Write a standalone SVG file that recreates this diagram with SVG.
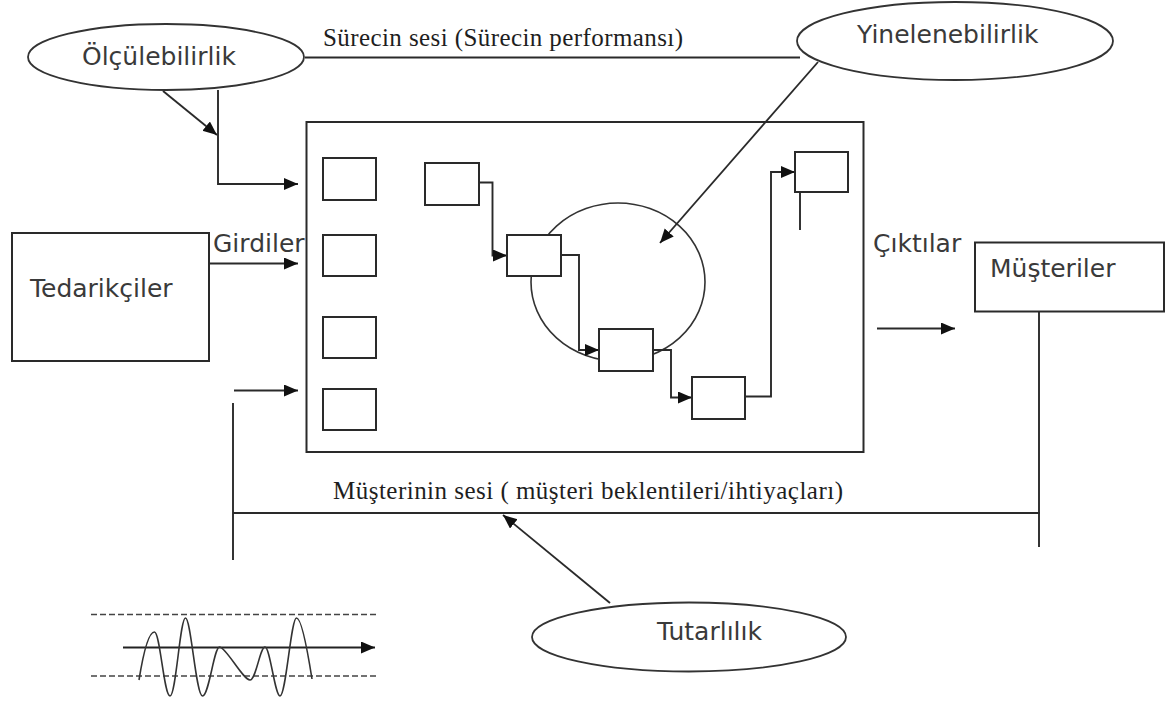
<svg xmlns="http://www.w3.org/2000/svg" width="1176" height="702" viewBox="0 0 1176 702">
  <defs>
    <marker id="arrow" markerUnits="userSpaceOnUse" markerWidth="15" markerHeight="13" refX="14" refY="6" orient="auto">
      <path d="M0,0 L14,6 L0,12 z" fill="#111"/>
    </marker>
    <style>
      .ln { fill: none; stroke: #2a2a2a; stroke-width: 1.9; }
      .box { fill: #fff; stroke: #2a2a2a; stroke-width: 2; }
      .frame { fill: none; stroke: #2a2a2a; stroke-width: 2; }
      .ell { fill: #fff; stroke: #333; stroke-width: 1.8; }
      .sans { font-family: "DejaVu Sans", "Liberation Sans", sans-serif; font-size: 25px; fill: #3a3a3a; }
      .serif { font-family: "Liberation Serif", "DejaVu Serif", serif; font-size: 25px; fill: #1e1e1e; }
      .dash { fill: none; stroke: #444; stroke-width: 1.6; stroke-dasharray: 6 3; }
    </style>
  </defs>
  <rect width="1176" height="702" fill="#fff"/>

  <g id="surec">
    <rect class="frame" x="306.5" y="122" width="557" height="330"/>
    <!-- input slots -->
    <rect class="box" x="323" y="158" width="53" height="42"/>
    <rect class="box" x="323" y="235" width="53" height="41"/>
    <rect class="box" x="323" y="317" width="53" height="41"/>
    <rect class="box" x="323" y="389" width="53" height="41"/>
    <!-- repeat loop -->
    <ellipse fill="none" stroke="#333" stroke-width="1.6" cx="618" cy="282" rx="87" ry="79"/>
    <!-- process steps -->
    <g class="steps">
      <path class="ln" d="M479,182.5 H492.5 V255.5 H507" marker-end="url(#arrow)"/>
      <path class="ln" d="M561,255 H579 V350 H599" marker-end="url(#arrow)"/>
      <path class="ln" d="M653,350 H671 V397.5 H692" marker-end="url(#arrow)"/>
      <path class="ln" d="M745,396.5 H771 V172 H795" marker-end="url(#arrow)"/>
      <path class="ln" d="M800,192 V230"/>
      <rect class="box" x="425" y="163" width="54" height="42"/>
      <rect class="box" x="507" y="235" width="54" height="41"/>
      <rect class="box" x="599" y="329" width="54" height="42"/>
      <rect class="box" x="692" y="377" width="53" height="42"/>
      <rect class="box" x="795" y="152" width="53" height="40"/>
    </g>
  </g>

  <!-- connectors -->
  <g id="connectors">
    <!-- process voice line between the two ellipses -->
    <path class="ln" d="M305,57.5 H800"/>
    <text class="serif" x="323" y="46" textLength="360" lengthAdjust="spacing">Sürecin sesi (Sürecin performansı)</text>
    <!-- measurability pointers -->
    <path class="ln" d="M163,91 L217,135" marker-end="url(#arrow)"/>
    <path class="ln" d="M218,90 V184 H298" marker-end="url(#arrow)"/>
    <!-- inputs -->
    <path class="ln" d="M203,263.5 H298" marker-end="url(#arrow)"/>
    <path class="ln" d="M234,390.5 H298" marker-end="url(#arrow)"/>
    <!-- outputs -->
    <path class="ln" d="M877,328.5 H955" marker-end="url(#arrow)"/>
    <!-- repeatability pointer -->
    <path class="ln" d="M818,62 L660,243" marker-end="url(#arrow)"/>
    <!-- customer voice loop -->
    <path class="ln" d="M233,403 V560"/>
    <path class="ln" d="M233,513 H1040"/>
    <path class="ln" d="M1039,297 V547"/>
    <text class="serif" x="333" y="499" textLength="510" lengthAdjust="spacing">Müşterinin sesi ( müşteri beklentileri/ihtiyaçları)</text>
    <!-- consistency pointer -->
    <path class="ln" d="M610,603 L503,515" marker-end="url(#arrow)"/>
  </g>

  <g id="olculebilirlik">
    <ellipse class="ell" cx="166" cy="57" rx="138" ry="33"/>
    <text class="sans" x="82" y="65">Ölçülebilirlik</text>
  </g>

  <g id="yinelenebilirlik">
    <ellipse class="ell" cx="955" cy="41" rx="158" ry="39"/>
    <text class="sans" x="857" y="43">Yinelenebilirlik</text>
  </g>

  <g id="tedarikciler">
    <rect class="box" x="12" y="233" width="197" height="128"/>
    <text class="sans" x="30" y="297">Tedarikçiler</text>
  </g>
  <text class="sans" x="213" y="252">Girdiler</text>

  <text class="sans" x="873" y="252">Çıktılar</text>
  <g id="musteriler">
    <rect class="box" x="975" y="242.5" width="189" height="69"/>
    <text class="sans" x="990" y="277">Müşteriler</text>
  </g>

  <g id="tutarlilik">
    <ellipse class="ell" cx="689" cy="637" rx="157" ry="34.5"/>
    <text class="sans" x="657" y="640">Tutarlılık</text>
  </g>

  <!-- variation chart -->
  <g id="degiskenlik">
    <path class="dash" d="M91,614.5 H377"/>
    <path class="dash" d="M91,676 H377"/>
    <path fill="none" stroke="#222" stroke-width="2.2" d="M123,647.5 H375" marker-end="url(#arrow)"/>
    <path fill="none" stroke="#333" stroke-width="1.6" d="M139,680 C143,655 148,632 154.5,632 C160,632 164,696 170,696 C176,696 180,618 185.5,618 C191,618 196,696 202.5,696 C209,696 214,647 219.5,647 C226,647 243,680 250,680 C256,680 260,647 265,647 C270,647 275,696 280,696 C286,696 291,618 296.5,618 C302,618 309,660 312,679"/>
  </g>
</svg>
